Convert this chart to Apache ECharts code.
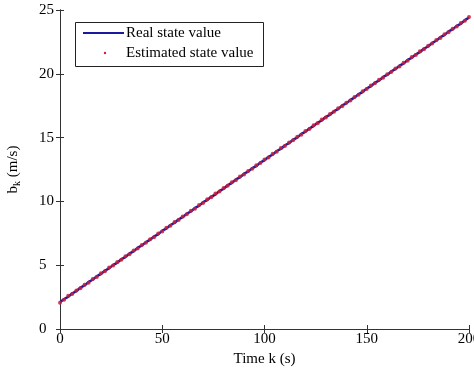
<!DOCTYPE html>
<html>
<head>
<meta charset="utf-8">
<script src="https://cdn.jsdelivr.net/npm/echarts@6/dist/echarts.min.js"></script>
<style>
html,body{margin:0;padding:0;background:#fff;}
#chart{width:474px;height:369px;}
</style>
</head>
<body>
<div id="chart"></div>
<script>
const timeK = [0,2,4,6,8,10,12,14,16,18,20,22,24,26,28,30,32,34,36,38,40,42,44,46,48,50,52,54,56,58,60,62,64,66,68,70,72,74,76,78,80,82,84,86,88,90,92,94,96,98,100,102,104,106,108,110,112,114,116,118,120,122,124,126,128,130,132,134,136,138,140,142,144,146,148,150,152,154,156,158,160,162,164,166,168,170,172,174,176,178,180,182,184,186,188,190,192,194,196,198,200];
const realState = [2.10,2.35,2.52,2.80,2.96,3.25,3.41,3.69,3.86,4.14,4.30,4.58,4.75,5.03,5.19,5.48,5.64,5.92,6.08,6.37,6.53,6.81,6.98,7.26,7.42,7.71,7.87,8.15,8.31,8.60,8.76,9.04,9.21,9.49,9.65,9.94,10.10,10.38,10.54,10.83,10.99,11.27,11.44,11.72,11.88,12.17,12.33,12.61,12.77,13.06,13.22,13.50,13.67,13.95,14.11,14.40,14.56,14.84,15.00,15.29,15.45,15.73,15.90,16.18,16.34,16.63,16.79,17.07,17.23,17.52,17.68,17.96,18.13,18.41,18.57,18.86,19.02,19.30,19.46,19.75,19.91,20.19,20.36,20.64,20.80,21.09,21.25,21.53,21.69,21.98,22.14,22.42,22.59,22.87,23.03,23.32,23.48,23.76,23.92,24.21,24.40];
const estimatedState = [2.05,2.30,2.60,2.74,3.02,3.19,3.47,3.63,3.92,4.08,4.36,4.52,4.81,4.97,5.26,5.42,5.70,5.86,6.15,6.31,6.59,6.76,7.04,7.20,7.49,7.65,7.93,8.10,8.38,8.54,8.82,8.99,9.27,9.43,9.72,9.88,10.16,10.33,10.61,10.77,11.05,11.22,11.50,11.66,11.95,12.11,12.39,12.56,12.84,13.00,13.28,13.45,13.73,13.89,14.18,14.34,14.62,14.79,15.07,15.23,15.51,15.68,15.96,16.12,16.41,16.57,16.85,17.02,17.30,17.46,17.74,17.91,18.19,18.35,18.64,18.80,19.08,19.25,19.53,19.69,19.97,20.14,20.42,20.58,20.87,21.03,21.31,21.48,21.76,21.92,22.20,22.37,22.65,22.81,23.10,23.26,23.54,23.71,23.99,24.15,24.45];
const xTicks = [0,50,100,150,200];
const yTicks = [0,5,10,15,20,25];
const seriesNames = ['Real state value','Estimated state value'];

const FONT = 'Liberation Serif';
const AXC = '#333';
const chart = echarts.init(document.getElementById('chart'), null, {renderer:'canvas'});

const baseAxisLine = {show:true, lineStyle:{color:AXC, width:1}};
const baseTick = {show:true, inside:true, length:4, lineStyle:{color:AXC}};

chart.setOption({
  animation:false,
  backgroundColor:'#fff',
  grid:{left:60, right:5, top:10, bottom:40, containLabel:false, outerBoundsMode:'none'},
  xAxis:[{
    type:'value', min:xTicks[0], max:xTicks[xTicks.length-1], interval:50,
    position:'bottom',
    name:'Time k (s)', nameLocation:'middle', nameGap:20,
    nameTextStyle:{fontFamily:FONT, fontSize:15, color:'#000'},
    axisLine:baseAxisLine, axisTick:baseTick,
    axisLabel:{fontFamily:FONT, fontSize:15, color:'#000', margin:3},
    splitLine:{show:false}
  },{
    type:'value', min:xTicks[0], max:xTicks[xTicks.length-1], interval:50,
    position:'top',
    axisLine:baseAxisLine, axisTick:baseTick, axisLabel:{show:false}, splitLine:{show:false}
  }],
  yAxis:[{
    type:'value', min:yTicks[0], max:yTicks[yTicks.length-1], interval:5,
    position:'left',
    name:'b{s|k} (m/s)', nameLocation:'middle', nameGap:38, nameRotate:90,
    nameTextStyle:{fontFamily:FONT, fontSize:15, color:'#000',
      rich:{s:{fontFamily:FONT, fontSize:10, verticalAlign:'bottom', padding:[8,0,0,0], color:'#000'}}},
    axisLine:baseAxisLine, axisTick:baseTick,
    axisLabel:{fontFamily:FONT, fontSize:15, color:'#000', margin:21, align:'left'},
    splitLine:{show:false}
  },{
    type:'value', min:yTicks[0], max:yTicks[yTicks.length-1], interval:5,
    position:'right',
    axisLine:baseAxisLine, axisTick:baseTick, axisLabel:{show:false}, splitLine:{show:false}
  }],
  series:[{
    name:seriesNames[0], type:'line',
    data:timeK.map((k,i)=>[k, realState[i]]),
    showSymbol:false, symbol:'none',
    lineStyle:{color:'#1a1a9a', width:2.5},
    z:2
  },{
    name:seriesNames[1], type:'scatter',
    data:timeK.map((k,i)=>[k, estimatedState[i]]),
    symbol:'circle', symbolSize:4,
    itemStyle:{color:'#c8203c', opacity:0.85},
    z:3
  }],
  graphic:[
    {type:'rect', shape:{x:75.5, y:22.5, width:188, height:44}, style:{fill:'#fff', stroke:'#222', lineWidth:1}, z:10},
    {type:'line', shape:{x1:83, y1:33, x2:124, y2:33}, style:{stroke:'#1a1a9a', lineWidth:2}, z:11},
    {type:'text', style:{x:126, y:33, text:seriesNames[0], fontFamily:FONT, fontSize:15, fill:'#000', verticalAlign:'middle'}, z:11},
    {type:'circle', shape:{cx:105, cy:53, r:1.2}, style:{fill:'#d0203a'}, z:11},
    {type:'text', style:{x:126, y:53, text:seriesNames[1], fontFamily:FONT, fontSize:15, fill:'#000', verticalAlign:'middle'}, z:11}
  ]
});
</script>
</body>
</html>
